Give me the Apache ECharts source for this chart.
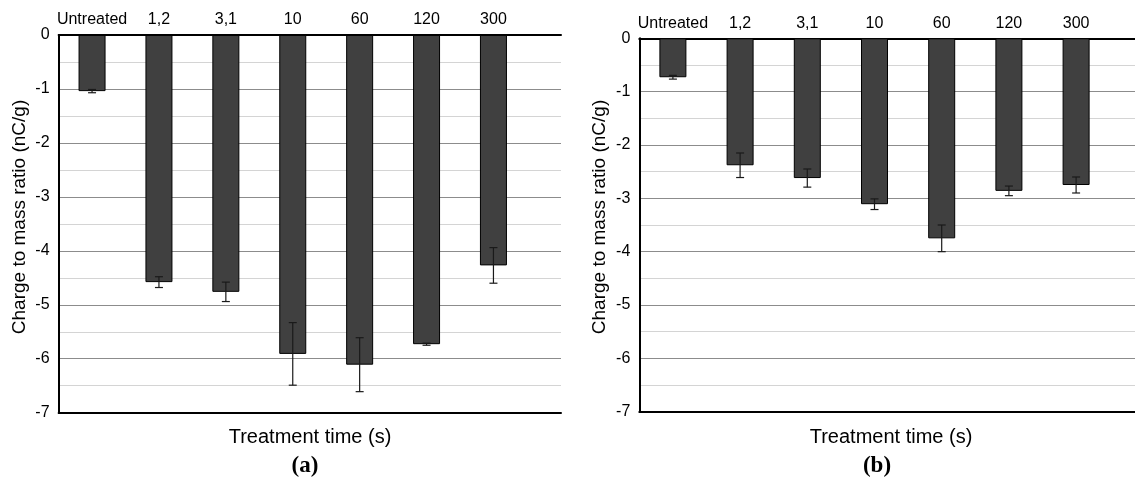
<!DOCTYPE html>
<html>
<head>
<meta charset="utf-8">
<script src="https://cdn.jsdelivr.net/npm/echarts@6/dist/echarts.min.js"></script>
<style>
html,body{margin:0;padding:0;background:#fff;}
#chart{width:1135px;height:477px;}
</style>
</head>
<body>
<div id="chart"></div>
<script>
const categories = ['Untreated', '1,2', '3,1', '10', '60', '120', '300'];
const meanA = [-1.04, -4.58, -4.76, -5.91, -6.11, -5.73, -4.27];
const errA  = [0.03, 0.10, 0.18, 0.58, 0.50, 0.02, 0.33];
const meanB = [-0.73, -2.38, -2.62, -3.11, -3.75, -2.86, -2.75];
const errB  = [0.035, 0.23, 0.17, 0.10, 0.25, 0.09, 0.15];
const yMin = -7, yMax = 0, yInterval = 1;
const yTitle = 'Charge to mass ratio (nC/g)';
const xTitle = 'Treatment time (s)';
const panelLabels = ['(a)', '(b)'];

const FONT = '"Liberation Sans", Arial, sans-serif';
const chart = echarts.init(document.getElementById('chart'));

function bgYAxis(gridIndex) {
  return {
    gridIndex, type: 'value', min: yMin, max: yMax, interval: yInterval, position: 'left',
    axisLine: { show: true, lineStyle: { color: '#000', width: 2 } },
    axisTick: { show: false },
    axisLabel: { color: '#000', fontSize: 16, fontFamily: FONT, margin: 9 },
    splitLine: { show: true, showMinLine: false, showMaxLine: false, lineStyle: { color: '#8c8c8c', width: 1 } },
    minorTick: { show: false, splitNumber: 2 },
    minorSplitLine: { show: true, lineStyle: { color: '#d4d4d4', width: 1 } }
  };
}
function borderX(gridIndex, position) {
  return {
    gridIndex, type: 'value', min: 0, max: 1, position,
    axisLine: { show: true, onZero: false, lineStyle: { color: '#000', width: 2 } },
    axisTick: { show: false }, axisLabel: { show: false }, splitLine: { show: false }
  };
}
function catX(gridIndex) {
  return {
    gridIndex, type: 'category', data: categories, position: 'top', boundaryGap: true,
    axisLine: { show: false, onZero: false }, axisTick: { show: false },
    axisLabel: { interval: 0, color: '#000', fontSize: 16, fontFamily: FONT, margin: 7 },
    splitLine: { show: false }
  };
}
function hiddenY(gridIndex) {
  return { gridIndex, type: 'value', min: yMin, max: yMax, interval: yInterval, show: false };
}
function errSeries(mean, err, xi, yi) {
  return {
    type: 'custom', xAxisIndex: xi, yAxisIndex: yi, z: 5,
    data: mean.map((m, i) => [i, m, err[i]]),
    renderItem: function (params, api) {
      const i = api.value(0), m = api.value(1), e = api.value(2);
      const hi = api.coord([i, m + e]);
      const lo = api.coord([i, m - e]);
      const w = 4;
      const st = { stroke: '#1a1a1a', lineWidth: 1.2 };
      return {
        type: 'group',
        children: [
          { type: 'line', shape: { x1: hi[0], y1: hi[1], x2: lo[0], y2: lo[1] }, style: st },
          { type: 'line', shape: { x1: hi[0] - w, y1: hi[1], x2: hi[0] + w, y2: hi[1] }, style: st },
          { type: 'line', shape: { x1: lo[0] - w, y1: lo[1], x2: lo[0] + w, y2: lo[1] }, style: st }
        ]
      };
    }
  };
}
function barSeries(mean, xi, yi) {
  return {
    type: 'bar', xAxisIndex: xi, yAxisIndex: yi, data: mean, barWidth: 27,
    itemStyle: { color: '#404040', borderColor: '#000', borderWidth: 1 },
    z: 3
  };
}

const option = {
  animation: false,
  backgroundColor: '#fff',
  grid: [
    { left: 58.6, top: 35, width: 502.4, height: 377.7 },
    { left: 58.6, top: 35, width: 468.3, height: 377.7 },
    { left: 639.3, top: 38.3, width: 520, height: 373.4 },
    { left: 639.3, top: 38.3, width: 470.4, height: 373.4 }
  ],
  xAxis: [
    borderX(0, 'bottom'), borderX(0, 'top'), catX(1),
    borderX(2, 'bottom'), borderX(2, 'top'), catX(3)
  ],
  yAxis: [
    bgYAxis(0),
    { gridIndex: 0, type: 'value', min: yMin, max: yMax, position: 'right',
      axisLine: { show: true, lineStyle: { color: '#000', width: 2 } },
      axisTick: { show: false }, axisLabel: { show: false }, splitLine: { show: false } },
    hiddenY(1),
    bgYAxis(2),
    hiddenY(3)
  ],
  series: [
    barSeries(meanA, 2, 2),
    errSeries(meanA, errA, 2, 2),
    barSeries(meanB, 5, 4),
    errSeries(meanB, errB, 5, 4)
  ],
  graphic: [
    { type: 'text', x: 20, y: 217, rotation: Math.PI / 2,
      style: { text: yTitle, font: '19px ' + FONT, fill: '#000', align: 'center', verticalAlign: 'middle' } },
    { type: 'text', x: 600, y: 217, rotation: Math.PI / 2,
      style: { text: yTitle, font: '19px ' + FONT, fill: '#000', align: 'center', verticalAlign: 'middle' } },
    { type: 'text', x: 310, y: 437,
      style: { text: xTitle, font: '20px ' + FONT, fill: '#000', align: 'center', verticalAlign: 'middle' } },
    { type: 'text', x: 891, y: 437,
      style: { text: xTitle, font: '20px ' + FONT, fill: '#000', align: 'center', verticalAlign: 'middle' } },
    { type: 'text', x: 305, y: 466,
      style: { text: panelLabels[0], font: 'bold 23px "Liberation Serif", "Times New Roman", serif', fill: '#000', align: 'center', verticalAlign: 'middle' } },
    { type: 'text', x: 877, y: 466,
      style: { text: panelLabels[1], font: 'bold 23px "Liberation Serif", "Times New Roman", serif', fill: '#000', align: 'center', verticalAlign: 'middle' } }
  ]
};
chart.setOption(option);
</script>
</body>
</html>
